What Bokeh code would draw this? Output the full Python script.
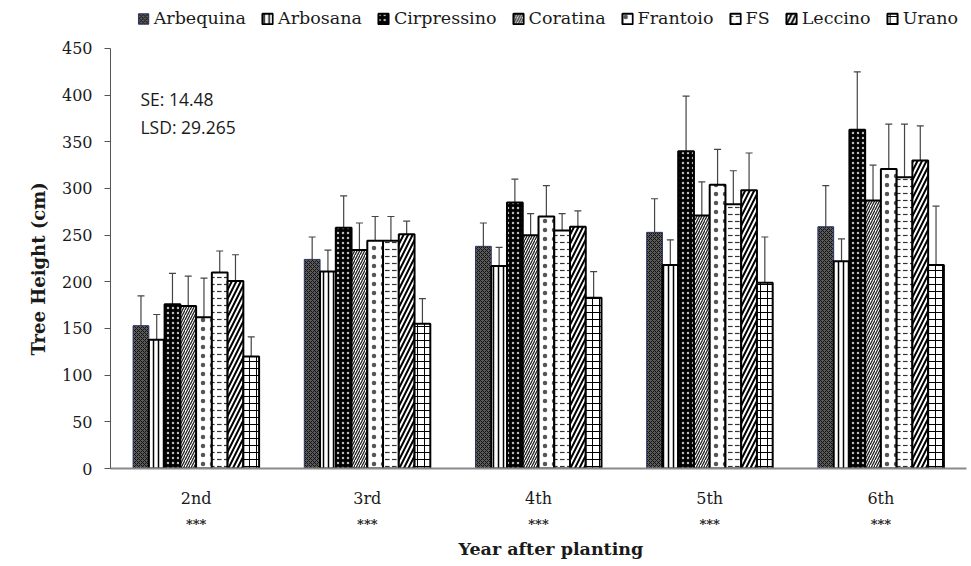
from bokeh.plotting import figure
from bokeh.models import (FactorRange, Range1d, Legend, LegendItem, Whisker, TeeHead,
                          CategoricalAxis, CustomJSTickFormatter, Label, Title,
                          ColumnDataSource, FixedTicker)
from bokeh.transform import dodge
from bokeh.embed import file_html
from bokeh.resources import INLINE

# Mean tree height (cm) per cultivar and year after planting, with error bars
years = ["2nd", "3rd", "4th", "5th", "6th"]
cultivars = ["Arbequina", "Arbosana", "Cirpressino", "Coratina",
             "Frantoio", "FS", "Leccino", "Urano"]

arbequina = [153, 224, 238, 253, 259]
arbosana = [138, 211, 217, 218, 222]
cirpressino = [176, 258, 285, 340, 363]
coratina = [174, 234, 250, 271, 287]
frantoio = [162, 244, 270, 304, 321]
fs = [210, 244, 255, 283, 312]
leccino = [201, 251, 259, 298, 330]
urano = [120, 155, 183, 199, 218]

arbequina_err = [32, 24, 25, 36, 44]
arbosana_err = [27, 23, 20, 27, 24]
cirpressino_err = [33, 34, 25, 59, 62]
coratina_err = [32, 29, 23, 36, 38]
frantoio_err = [42, 26, 33, 38, 48]
fs_err = [23, 26, 18, 36, 57]
leccino_err = [28, 14, 17, 40, 37]
urano_err = [21, 27, 28, 49, 63]

y_ticks = [0, 50, 100, 150, 200, 250, 300, 350, 400, 450]
significance = ["***", "***", "***", "***", "***"]
se_text = "SE: 14.48"
lsd_text = "LSD: 29.265"

means = [arbequina, arbosana, cirpressino, coratina, frantoio, fs, leccino, urano]
errs = [arbequina_err, arbosana_err, cirpressino_err, coratina_err,
        frantoio_err, fs_err, leccino_err, urano_err]

# Fill / hatch styling for each cultivar
styles = [
    dict(fill_color="#5a5a5a", hatch_pattern="diagonal_cross", hatch_color="#111111",
         hatch_scale=4, hatch_weight=1, line_color="#2c3566", line_width=1),
    dict(fill_color="white", hatch_pattern="vertical_line", hatch_color="black",
         hatch_scale=5, hatch_weight=1.5, line_color="black", line_width=2),
    dict(fill_color="black", hatch_pattern="dot", hatch_color="#bbbbbb",
         hatch_scale=5, hatch_weight=1, line_color="black", line_width=2),
    dict(fill_color="white", hatch_pattern="right_diagonal_line", hatch_color="#222222",
         hatch_scale=5, hatch_weight=1.3, line_color="black", line_width=2),
    dict(fill_color="white", hatch_pattern="dot", hatch_color="#555555",
         hatch_scale=9, hatch_weight=1, line_color="black", line_width=2),
    dict(fill_color="white", hatch_pattern="horizontal_dash", hatch_color="#333333",
         hatch_scale=7, hatch_weight=1.2, line_color="black", line_width=2),
    dict(fill_color="white", hatch_pattern="right_diagonal_line", hatch_color="black",
         hatch_scale=9, hatch_weight=2, line_color="black", line_width=2),
    dict(fill_color="white", hatch_pattern="cross", hatch_color="black",
         hatch_scale=7, hatch_weight=1, line_color="black", line_width=2),
]

data = dict(year=years)
for i, (m, e) in enumerate(zip(means, errs)):
    data[f"m{i}"] = m
    data[f"hi{i}"] = [a + b for a, b in zip(m, e)]
    data[f"lo{i}"] = [a - b for a, b in zip(m, e)]
source = ColumnDataSource(data)

# the frame reaches up to the legend row; the y axis itself stops at 450
p = figure(width=971, height=566, x_range=FactorRange(*years, range_padding=0),
           y_range=Range1d(0, 501.4), output_backend="svg", toolbar_location=None,
           min_border_left=110, min_border_right=5, min_border_top=0,
           min_border_bottom=98)
p.outline_line_color = None
p.xgrid.grid_line_color = None
p.ygrid.grid_line_color = None

bar_w = 0.092
items = []
for i, name in enumerate(cultivars):
    off = (i - 3.5) * bar_w
    r = p.vbar(x=dodge("year", off, range=p.x_range), top=f"m{i}", width=bar_w,
               source=source, **styles[i])
    items.append(LegendItem(label=name, renderers=[r]))
    w = Whisker(base=dodge("year", off, range=p.x_range), upper=f"hi{i}",
                lower=f"lo{i}", source=source, line_color="#444444", line_width=1.2,
                upper_head=TeeHead(size=7, line_color="#444444", line_width=1.2),
                lower_head=None)
    p.add_layout(w)

serif = "DejaVu Serif"
ink = "#1a1a1a"

legend = Legend(items=items, orientation="horizontal", location="top_right",
                glyph_width=13, glyph_height=13, label_standoff=4, spacing=15,
                padding=0, margin=8, border_line_color=None,
                background_fill_alpha=0, label_text_font=serif,
                label_text_font_size="17.5px", label_text_color=ink,
                label_height=13)
p.add_layout(legend)

# y axis
p.yaxis.ticker = FixedTicker(ticks=y_ticks)
p.yaxis.bounds = (y_ticks[0], y_ticks[-1])
p.yaxis.major_label_text_font = serif
p.yaxis.major_label_text_font_size = "16px"
p.yaxis.major_label_text_color = ink
p.yaxis.axis_line_color = "#555555"
p.yaxis.major_tick_line_color = "#555555"
p.yaxis.major_tick_out = 6
p.yaxis.major_tick_in = 0
p.yaxis.minor_tick_line_color = None
p.yaxis.major_label_standoff = 12

# x axis (year labels)
p.xaxis.axis_line_color = "#8a8a8a"
p.xaxis.axis_line_width = 2
p.xaxis.major_tick_line_color = None
p.xaxis.major_label_text_font = serif
p.xaxis.major_label_text_font_size = "16px"
p.xaxis.major_label_text_color = ink
p.xaxis.major_label_standoff = 14

# second row under the year labels: significance markers per year
sig_fmt = CustomJSTickFormatter(args=dict(keys=years, vals=significance),
                                code="return vals[keys.indexOf(tick)];")
sig_axis = CategoricalAxis(formatter=sig_fmt,
                           axis_line_color=None, major_tick_line_color=None,
                           major_label_standoff=0, major_label_text_font=serif,
                           major_label_text_font_style="bold",
                           major_label_text_font_size="13px",
                           major_label_text_color=ink)
p.add_layout(sig_axis, "below")

# axis titles, set in the side panels
p.add_layout(Title(text="Year after planting", align="left", offset=348,
                   text_font=serif, text_font_style="bold", text_font_size="17.5px",
                   text_color=ink, standoff=4), "below")
p.add_layout(Title(text="Tree Height (cm)", align="left", offset=113,
                   text_font=serif, text_font_style="bold", text_font_size="18px",
                   text_color=ink, standoff=20), "left")

for txt, yv in [(se_text, 396), (lsd_text, 366)]:
    p.add_layout(Label(x=0.175, y=yv, text=txt, text_font="Open Sans",
                       text_font_size="17.5px", text_baseline="middle",
                       text_color=ink))

open("out.html", "w").write(file_html(p, INLINE))
